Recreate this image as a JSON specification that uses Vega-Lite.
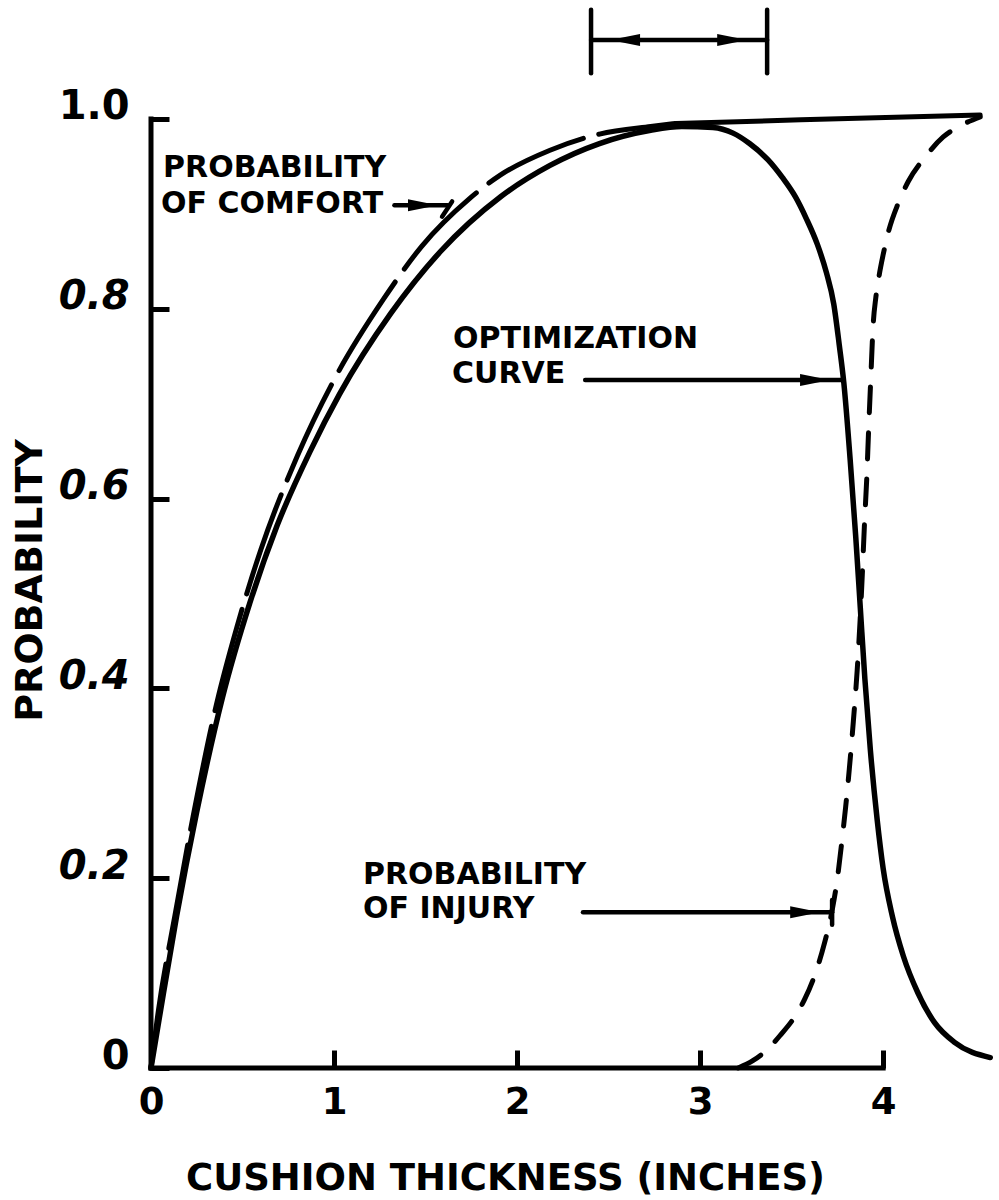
{
  "$schema": "https://vega.github.io/schema/vega-lite/v6.json",
  "width": 842,
  "height": 1063,
  "autosize": "none",
  "padding": {"left": 151, "top": 5, "right": 6, "bottom": 132},
  "background": "white",
  "config": {"view": {"stroke": null}, "font": "DejaVu Sans"},
  "datasets": {
    "comfort": [
      {"x": 0, "y": 0}, {"x": 0.04, "y": 0.06}, {"x": 0.13, "y": 0.16}, {"x": 0.23, "y": 0.265},
      {"x": 0.36, "y": 0.385}, {"x": 0.47, "y": 0.465}, {"x": 0.6, "y": 0.546}, {"x": 0.8, "y": 0.645},
      {"x": 1.0, "y": 0.725}, {"x": 1.27, "y": 0.81}, {"x": 1.48, "y": 0.866}, {"x": 1.74, "y": 0.916},
      {"x": 1.91, "y": 0.941}, {"x": 2.18, "y": 0.967}, {"x": 2.45, "y": 0.984}, {"x": 2.73, "y": 0.992},
      {"x": 2.86, "y": 0.995}, {"x": 3.55, "y": 0.999}, {"x": 4.53, "y": 1.004}
    ],
    "optimization": [
      {"x": 0, "y": 0}, {"x": 0.05, "y": 0.058}, {"x": 0.14, "y": 0.16}, {"x": 0.25, "y": 0.27},
      {"x": 0.39, "y": 0.39}, {"x": 0.54, "y": 0.49}, {"x": 0.69, "y": 0.572}, {"x": 0.87, "y": 0.65},
      {"x": 1.03, "y": 0.71}, {"x": 1.31, "y": 0.795}, {"x": 1.58, "y": 0.86}, {"x": 1.91, "y": 0.918},
      {"x": 2.18, "y": 0.951}, {"x": 2.45, "y": 0.974}, {"x": 2.73, "y": 0.988}, {"x": 2.9, "y": 0.992},
      {"x": 3.07, "y": 0.991}, {"x": 3.18, "y": 0.985}, {"x": 3.27, "y": 0.974}, {"x": 3.37, "y": 0.957},
      {"x": 3.45, "y": 0.938}, {"x": 3.52, "y": 0.918}, {"x": 3.58, "y": 0.895}, {"x": 3.64, "y": 0.868},
      {"x": 3.69, "y": 0.838}, {"x": 3.73, "y": 0.805}, {"x": 3.76, "y": 0.762}, {"x": 3.785, "y": 0.722},
      {"x": 3.82, "y": 0.64}, {"x": 3.85, "y": 0.56}, {"x": 3.875, "y": 0.485}, {"x": 3.9, "y": 0.41},
      {"x": 3.93, "y": 0.335}, {"x": 3.967, "y": 0.262}, {"x": 4.0, "y": 0.21}, {"x": 4.05, "y": 0.16},
      {"x": 4.11, "y": 0.118}, {"x": 4.19, "y": 0.079}, {"x": 4.28, "y": 0.048}, {"x": 4.39, "y": 0.027},
      {"x": 4.585, "y": 0.011}
    ],
    "injury": [
      {"x": 3.208, "y": 0}, {"x": 3.29, "y": 0.008}, {"x": 3.37, "y": 0.02}, {"x": 3.44, "y": 0.035},
      {"x": 3.51, "y": 0.052}, {"x": 3.57, "y": 0.072}, {"x": 3.63, "y": 0.1}, {"x": 3.68, "y": 0.132},
      {"x": 3.72, "y": 0.165}, {"x": 3.75, "y": 0.2}, {"x": 3.775, "y": 0.24}, {"x": 3.795, "y": 0.275},
      {"x": 3.815, "y": 0.315}, {"x": 3.837, "y": 0.365}, {"x": 3.858, "y": 0.419}, {"x": 3.874, "y": 0.472},
      {"x": 3.886, "y": 0.52}, {"x": 3.898, "y": 0.574}, {"x": 3.91, "y": 0.62}, {"x": 3.92, "y": 0.67},
      {"x": 3.932, "y": 0.725}, {"x": 3.945, "y": 0.782}, {"x": 3.96, "y": 0.812}, {"x": 3.978, "y": 0.835},
      {"x": 4.0, "y": 0.857}, {"x": 4.03, "y": 0.882}, {"x": 4.082, "y": 0.911}, {"x": 4.137, "y": 0.934},
      {"x": 4.23, "y": 0.96}, {"x": 4.328, "y": 0.981}, {"x": 4.404, "y": 0.991}, {"x": 4.53, "y": 1.002}
    ],
    "axislines": [
      {"x": 0, "y": 0, "x2": 4, "y2": 0},
      {"x": 0, "y": 0, "x2": 0, "y2": 1}
    ],
    "arrows": [
      {"x": 1.33, "y": 0.909, "x2": 1.62, "y2": 0.909},
      {"x": 1.59, "y": 0.897, "x2": 1.645, "y2": 0.913},
      {"x": 2.372, "y": 0.725, "x2": 3.776, "y2": 0.725},
      {"x": 2.36, "y": 0.164, "x2": 3.721, "y2": 0.164},
      {"x": 3.721, "y": 0.151, "x2": 3.721, "y2": 0.177},
      {"x": 2.404, "y": 1.083, "x2": 3.366, "y2": 1.083},
      {"x": 2.404, "y": 1.048, "x2": 2.404, "y2": 1.115},
      {"x": 3.366, "y": 1.048, "x2": 3.366, "y2": 1.115}
    ],
    "heads": [
      {"x": 1.486, "y": 0.909, "dir": "right"},
      {"x": 3.628, "y": 0.725, "dir": "right"},
      {"x": 3.574, "y": 0.164, "dir": "right"},
      {"x": 2.59, "y": 1.083, "dir": "left"},
      {"x": 3.175, "y": 1.083, "dir": "right"}
    ],
    "labels": [
      {"x": 0.066, "y": 0.948, "text": "PROBABILITY"},
      {"x": 0.055, "y": 0.91, "text": "OF COMFORT"},
      {"x": 1.65, "y": 0.768, "text": "OPTIMIZATION"},
      {"x": 1.645, "y": 0.731, "text": "CURVE"},
      {"x": 1.158, "y": 0.203, "text": "PROBABILITY"},
      {"x": 1.158, "y": 0.168, "text": "OF INJURY"}
    ]
  },
  "encoding": {
    "x": {
      "field": "x", "type": "quantitative",
      "scale": {"domain": [0, 4.6], "nice": false, "zero": false},
      "axis": {
        "values": [0, 1, 2, 3, 4], "domain": false, "grid": false, "labelFlush": false,
        "ticks": true, "tickSize": -18, "tickWidth": 5, "tickColor": "#000",
        "labelPadding": 34, "labelFontSize": 37, "labelFontWeight": "bold", "labelColor": "#000",
        "labelFont": "DejaVu Sans",
        "title": "CUSHION THICKNESS (INCHES)", "titleFontSize": 37, "titleFontWeight": "bold",
        "titleColor": "#000", "titleFont": "DejaVu Sans",
        "titleX": 354, "titleY": 110, "titleBaseline": "middle", "titleAnchor": null, "titleAlign": "center"
      }
    },
    "y": {
      "field": "y", "type": "quantitative",
      "scale": {"domain": [0, 1.12], "nice": false, "zero": false},
      "axis": {
        "values": [0, 0.2, 0.4, 0.6, 0.8, 1.0], "domain": false, "grid": false, "labelFlush": false,
        "ticks": true, "tickSize": -18, "tickWidth": 5, "tickColor": "#000",
        "labelExpr": "datum.value == 0 ? '0' : format(datum.value, '.1f')",
        "labelPadding": 40, "labelFontSize": 40, "labelFontWeight": "bold", "labelColor": "#000",
        "labelFont": "DejaVu Sans", "labelBaseline": "alphabetic",
        "labelFontStyle": {"condition": {"test": "datum.value == 0 || datum.value == 1", "value": "normal"}, "value": "italic"},
        "title": "PROBABILITY", "titleFontSize": 38, "titleFontWeight": "bold",
        "titleColor": "#000", "titleFont": "DejaVu Sans",
        "titleX": -121, "titleY": 575, "titleAngle": -90, "titleBaseline": "middle", "titleAlign": "center"
      }
    }
  },
  "layer": [
    {
      "data": {"name": "axislines"},
      "mark": {"type": "rule", "color": "#000", "strokeWidth": 5, "strokeCap": "square"},
      "encoding": {"x2": {"field": "x2"}, "y2": {"field": "y2"}}
    },
    {
      "data": {"name": "comfort"},
      "transform": [{"filter": "datum.x <= 2.86"}],
      "mark": {"type": "line", "color": "#000", "strokeWidth": 5, "interpolate": "monotone", "strokeDash": [105, 16], "strokeCap": "round"}
    },
    {
      "data": {"name": "comfort"},
      "transform": [{"filter": "datum.x >= 2.86"}],
      "mark": {"type": "line", "color": "#000", "strokeWidth": 5, "interpolate": "monotone", "strokeCap": "round"}
    },
    {
      "data": {"name": "optimization"},
      "mark": {"type": "line", "color": "#000", "strokeWidth": 5.5, "interpolate": "monotone", "strokeCap": "round"}
    },
    {
      "data": {"name": "injury"},
      "mark": {"type": "line", "color": "#000", "strokeWidth": 5, "interpolate": "monotone", "strokeDash": [26, 20], "strokeCap": "round"}
    },
    {
      "data": {"name": "arrows"},
      "mark": {"type": "rule", "color": "#000", "strokeWidth": 4.5, "strokeCap": "round"},
      "encoding": {"x2": {"field": "x2"}, "y2": {"field": "y2"}}
    },
    {
      "data": {"name": "heads"},
      "mark": {"type": "point", "filled": true, "color": "#000", "opacity": 1, "size": 900},
      "encoding": {
        "shape": {
          "field": "dir", "type": "nominal", "legend": null,
          "scale": {"domain": ["left", "right"], "range": ["M1,-0.4L-1,0L1,0.4Z", "M-1,-0.4L1,0L-1,0.4Z"]}
        }
      }
    },
    {
      "data": {"name": "labels"},
      "mark": {"type": "text", "align": "left", "baseline": "middle", "fontSize": 30, "fontWeight": "bold", "font": "DejaVu Sans", "color": "#000"},
      "encoding": {"text": {"field": "text"}}
    }
  ]
}
